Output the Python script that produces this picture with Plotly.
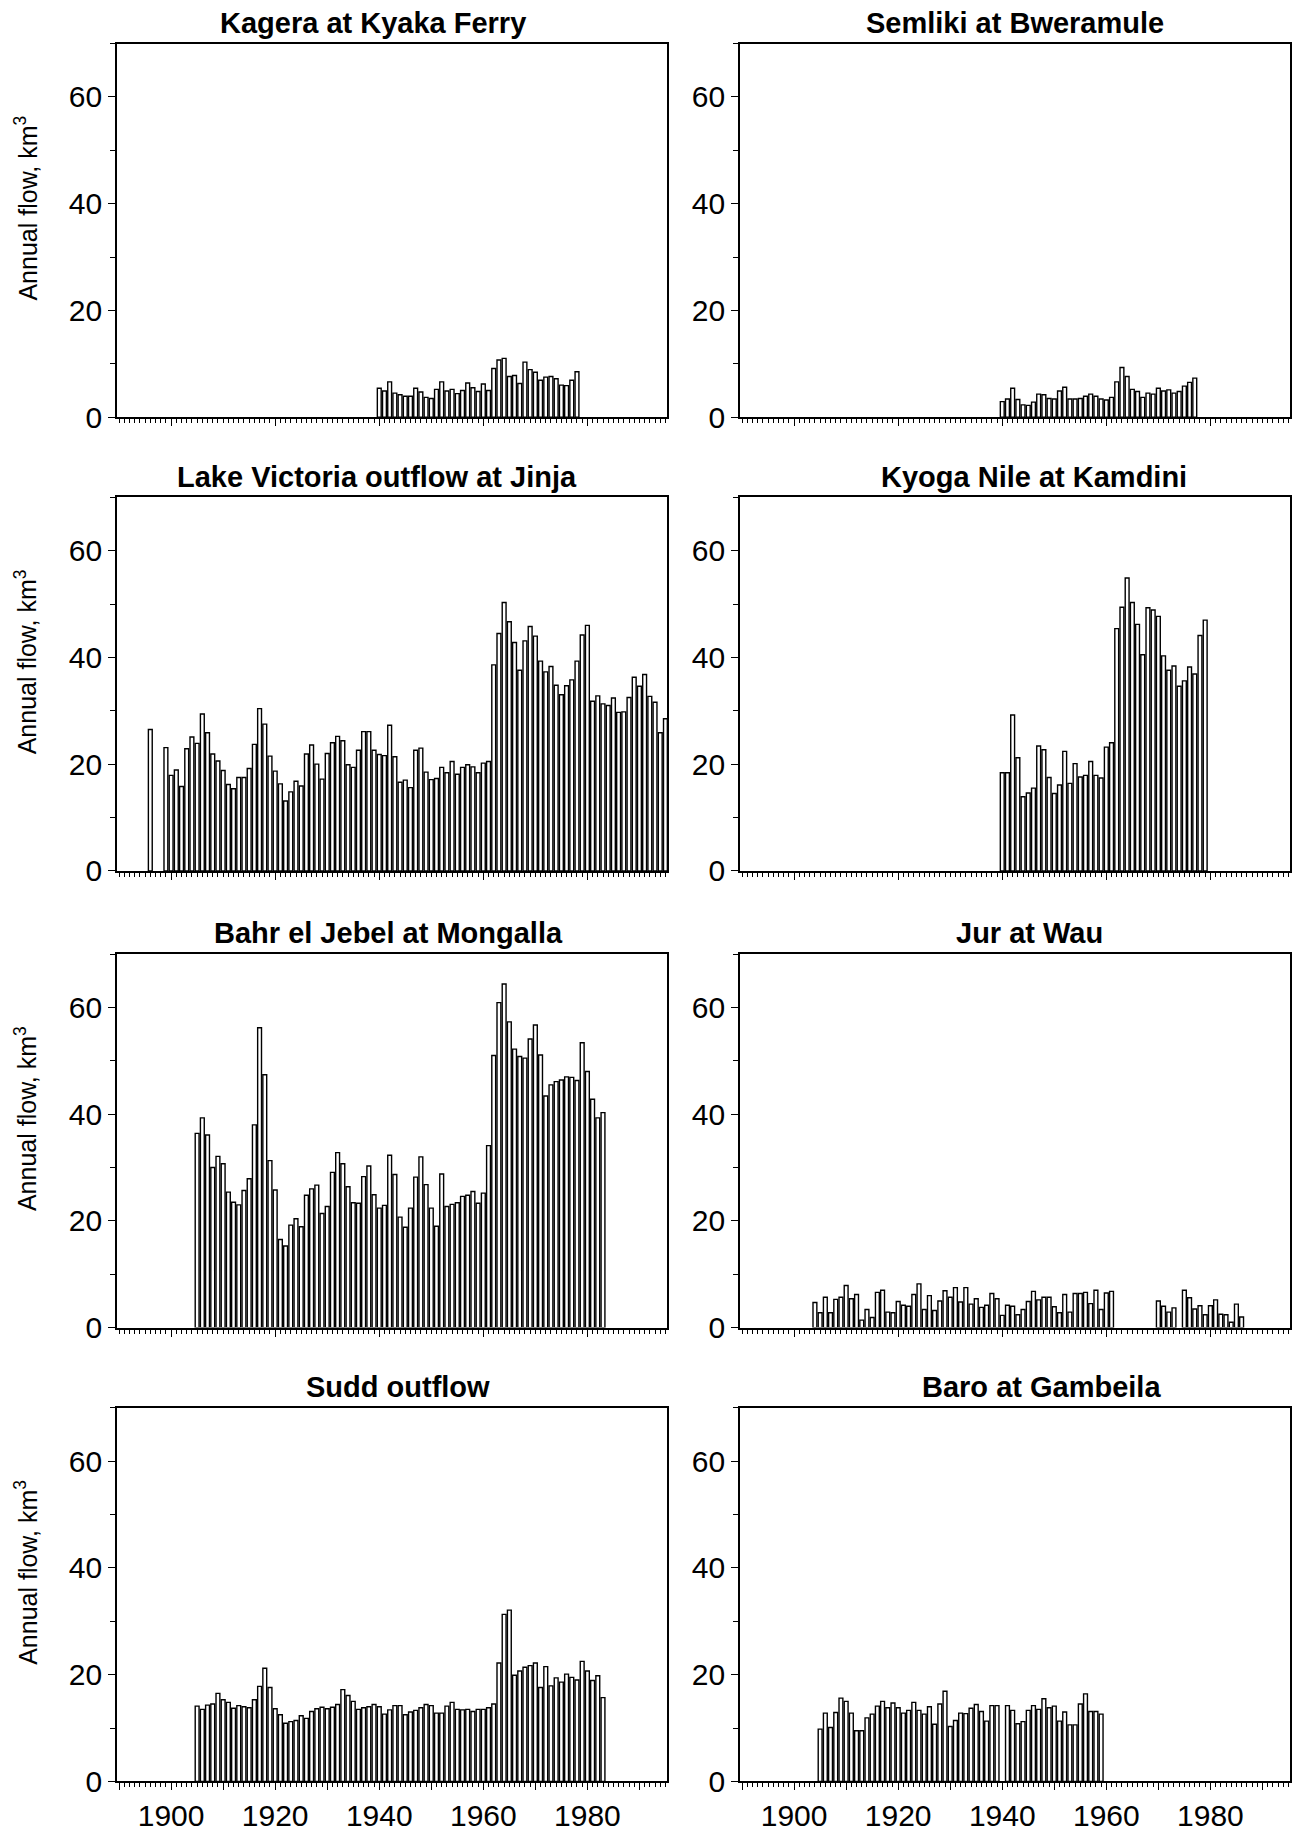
import plotly.graph_objects as go

# ---------------- data (annual flow, km^3) ----------------
kagera_years = list(range(1940, 1979))
kagera = [5.4, 4.9, 6.6, 4.5, 4.2, 3.9, 3.9, 5.4, 4.7, 3.7,
          3.5, 5.2, 6.6, 4.9, 5.2, 4.4, 5.0, 6.4, 5.5, 4.8,
          6.2, 5.0, 9.1, 10.7, 11.0, 7.6, 7.8, 6.3, 10.3, 8.9,
          8.4, 6.9, 7.5, 7.6, 7.2, 6.0, 5.9, 6.9, 8.5]

semliki_years = list(range(1940, 1978))
semliki = [2.9, 3.4, 5.4, 3.3, 2.3, 2.2, 2.8, 4.3, 4.2, 3.5,
           3.4, 4.9, 5.6, 3.4, 3.4, 3.5, 3.9, 4.3, 3.9, 3.4,
           3.2, 3.7, 6.6, 9.3, 7.6, 5.2, 4.8, 3.7, 4.5, 4.3,
           5.4, 4.9, 5.1, 4.5, 4.8, 5.8, 6.5, 7.3]

victoria_years = list(range(1896, 1996))
victoria = [26.5, None, None, 23.1,
            17.9, 18.9, 15.8, 22.9, 25.1, 23.9, 29.4, 25.9, 21.9, 20.6,
            18.8, 16.2, 15.4, 17.5, 17.5, 19.2, 23.7, 30.4, 27.5, 21.5,
            18.7, 16.3, 13.1, 14.8, 16.8, 15.9, 21.9, 23.6, 20.0, 17.2,
            22.0, 24.0, 25.2, 24.4, 19.9, 19.4, 22.6, 26.1, 26.1, 22.6,
            21.8, 21.6, 27.3, 21.4, 16.6, 17.0, 15.6, 22.6, 23.0, 18.5,
            17.1, 17.3, 19.4, 18.4, 20.5, 18.1, 19.4, 19.9, 19.5, 18.4,
            20.2, 20.5, 38.6, 44.5, 50.3, 46.7, 42.8, 37.6, 43.1, 45.8,
            44.0, 39.3, 37.3, 38.3, 34.8, 33.0, 34.7, 35.8, 39.3, 44.2,
            46.0, 31.8, 32.8, 31.3, 31.0, 32.4, 29.7, 29.8, 32.5, 36.3,
            34.6, 36.8, 32.7, 31.6, 25.9, 28.5]

kyoga_years = list(range(1940, 1980))
kyoga = [18.4, 18.4, 29.2, 21.2, 13.9, 14.6, 15.5, 23.4, 22.7, 17.5,
         14.5, 16.1, 22.4, 16.4, 20.1, 17.6, 17.9, 20.5, 17.9, 17.4,
         23.2, 24.0, 45.4, 49.4, 54.9, 50.3, 46.2, 40.5, 49.3, 48.9,
         47.7, 40.3, 37.6, 38.4, 34.6, 35.6, 38.2, 36.9, 44.1, 47.0]

mongalla_years = list(range(1905, 1984))
mongalla = [36.4, 39.3, 36.1, 30.0, 32.1,
            30.7, 25.4, 23.5, 23.0, 25.7, 27.9, 38.0, 56.2, 47.4, 31.3,
            25.8, 16.5, 15.3, 19.2, 20.4, 18.9, 24.8, 26.0, 26.7, 21.4,
            22.7, 29.1, 32.8, 30.7, 26.4, 23.4, 23.3, 28.3, 30.3, 24.9,
            22.4, 22.9, 32.3, 28.7, 20.7, 18.8, 22.4, 28.2, 32.0, 26.8,
            22.4, 19.0, 28.8, 22.7, 23.1, 23.4, 24.6, 24.8, 25.5, 23.3,
            25.2, 34.1, 51.0, 60.9, 64.4, 57.3, 52.2, 50.8, 50.5, 54.1,
            56.7, 51.1, 43.4, 45.5, 46.1, 46.4, 47.0, 46.9, 46.3, 53.4,
            48.0, 42.8, 39.3, 40.3]

jur_years = list(range(1904, 1987))
jur = [4.7, 2.8, 5.7, 2.8, 5.3, 5.7,
       7.9, 5.4, 6.2, 1.4, 3.4, 1.9, 6.6, 7.0, 2.9, 2.8,
       4.9, 4.2, 4.0, 6.2, 8.2, 3.4, 6.0, 3.2, 5.0, 6.9,
       5.7, 7.5, 4.8, 7.5, 4.4, 5.4, 3.8, 4.2, 6.4, 5.4,
       2.3, 4.2, 4.0, 2.4, 3.4, 4.9, 6.8, 5.2, 5.7, 5.7,
       3.9, 2.8, 6.2, 2.9, 6.4, 6.4, 6.6, 4.5, 7.0, 3.4,
       6.5, 6.8, None, None, None, None, None, None, None, None,
       5.0, 4.0, 2.9, 3.7, None, 7.0, 5.6, 3.5, 4.1, 2.4,
       4.1, 5.2, 2.5, 2.4, 1.0, 4.4, 2.0]

sudd_years = list(range(1905, 1984))
sudd = [14.1, 13.5, 14.3, 14.5, 16.5,
        15.3, 14.8, 13.7, 14.2, 14.0, 13.8, 15.3, 17.8, 21.2, 17.6,
        13.6, 12.5, 10.9, 11.2, 11.4, 12.3, 11.8, 13.1, 13.6, 13.9,
        13.6, 13.9, 14.4, 17.2, 16.1, 15.0, 13.5, 13.8, 14.0, 14.4,
        14.0, 12.6, 13.4, 14.2, 14.2, 12.5, 13.0, 13.3, 13.8, 14.4,
        14.2, 12.8, 12.8, 14.1, 14.8, 13.5, 13.4, 13.5, 13.1, 13.5,
        13.5, 13.8, 14.5, 22.2, 31.3, 32.1, 19.9, 20.7, 21.4, 21.7,
        22.2, 17.6, 21.5, 17.9, 19.4, 18.6, 20.1, 19.5, 19.0, 22.5,
        20.7, 18.9, 19.8, 15.7]

baro_years = list(range(1905, 1960))
baro = [9.8, 12.8, 10.1, 12.9, 15.6,
        15.0, 12.8, 9.5, 9.5, 11.9, 12.6, 14.1, 15.0, 13.8, 14.7,
        13.8, 12.8, 13.3, 14.8, 13.3, 12.6, 14.0, 10.7, 14.5, 16.9,
        10.3, 11.4, 12.8, 12.7, 13.7, 14.4, 13.1, 11.3, 14.2, 14.2,
        None, 14.2, 13.3, 10.8, 11.2, 13.3, 14.2, 13.5, 15.5, 13.8,
        14.1, 11.3, 13.0, 10.6, 10.6, 14.5, 16.4, 13.1, 13.1, 12.6]

panel_titles = ["Kagera at Kyaka Ferry", "Semliki at Bweramule",
                "Lake Victoria outflow at Jinja", "Kyoga Nile at Kamdini",
                "Bahr el Jebel at Mongalla", "Jur at Wau",
                "Sudd outflow", "Baro at Gambeila"]
panel_data = [(kagera_years, kagera), (semliki_years, semliki),
              (victoria_years, victoria), (kyoga_years, kyoga),
              (mongalla_years, mongalla), (jur_years, jur),
              (sudd_years, sudd), (baro_years, baro)]

x_tickvals = [1890, 1900, 1910, 1920, 1930, 1940, 1950, 1960, 1970, 1980, 1990]
x_ticktext = ["", "1900", "", "1920", "", "1940", "", "1960", "", "1980", ""]
y_tickvals = [0, 20, 40, 60]
y_title = "Annual flow, km<sup>3</sup>"

# ---------------- layout geometry (pixels) ----------------
W, H = 1300, 1840
col_px = [(117, 667), (740, 1290)]
row_px = [(44, 421), (502, 879), (963, 1340), (1421, 1798)]
title_x_px = [373, 1015, 377, 1034, 388, 1029, 398, 1041]

FONT = "Liberation Sans, Arial, Helvetica, sans-serif"
TICKFONT = "Liberation Sans Narrow, Arial Narrow, Liberation Sans, Arial, sans-serif"

fig = go.Figure()
layout = dict(width=W, height=H, margin=dict(l=0, r=0, t=0, b=0),
              paper_bgcolor="white", plot_bgcolor="white", showlegend=False,
              font=dict(family=FONT, color="black", size=25))
annotations = []

for i, ((yrs, vals), title) in enumerate(zip(panel_data, panel_titles)):
    r, c = divmod(i, 2)
    n = i + 1
    xa = "x" if n == 1 else f"x{n}"
    ya = "y" if n == 1 else f"y{n}"
    fig.add_trace(go.Bar(x=yrs, y=vals, width=0.74, xaxis=xa, yaxis=ya,
                         marker=dict(color="white", line=dict(color="black", width=1.4))))
    x0, x1 = col_px[c]
    top, bot = row_px[r]
    layout["xaxis" if n == 1 else f"xaxis{n}"] = dict(
        domain=[x0 / W, x1 / W], anchor=ya, range=[1889.6, 1995.3],
        tickmode="array", tickvals=x_tickvals, ticktext=x_ticktext,
        showticklabels=(r == 3), ticks="outside", ticklen=7, tickwidth=1.2,
        tickcolor="black", showline=True, linecolor="black", linewidth=1.8,
        mirror=True, showgrid=False, zeroline=False,
        tickfont=dict(size=30, family=TICKFONT, color="black"),
        minor=dict(tickmode="linear", tick0=1890, dtick=1, ticks="outside",
                   ticklen=4, tickwidth=1, tickcolor="black", showgrid=False))
    layout["yaxis" if n == 1 else f"yaxis{n}"] = dict(
        domain=[1 - bot / H, 1 - top / H], anchor=xa, range=[0, 70],
        tickmode="array", tickvals=y_tickvals, ticks="outside", ticklen=7,
        tickwidth=1.2, tickcolor="black", showline=True, linecolor="black",
        linewidth=1.8, mirror=True, showgrid=False, zeroline=False,
        tickfont=dict(size=30, family=TICKFONT, color="black"),
        minor=dict(tickmode="linear", tick0=0, dtick=10, ticks="outside",
                   ticklen=5, tickwidth=1, tickcolor="black", showgrid=False))
    annotations.append(dict(text=f"<b>{title}</b>", xref="paper", yref="paper",
                            x=title_x_px[i] / W, y=1 - (top - 21) / H,
                            xanchor="center", yanchor="middle", showarrow=False,
                            font=dict(size=29, family=FONT, color="black")))
    if c == 0:
        annotations.append(dict(text=y_title, xref="paper", yref="paper",
                                x=26 / W, y=1 - ((top + bot) / 2 - 22) / H,
                                xanchor="center", yanchor="middle", textangle=-90,
                                showarrow=False,
                                font=dict(size=25, family=FONT, color="black")))

layout["annotations"] = annotations
fig.update_layout(**layout)
fig.write_html("out.html", config={"displayModeBar": False},
               post_script="document.body.style.margin='0';"
                           "document.body.style.overflow='hidden';")
